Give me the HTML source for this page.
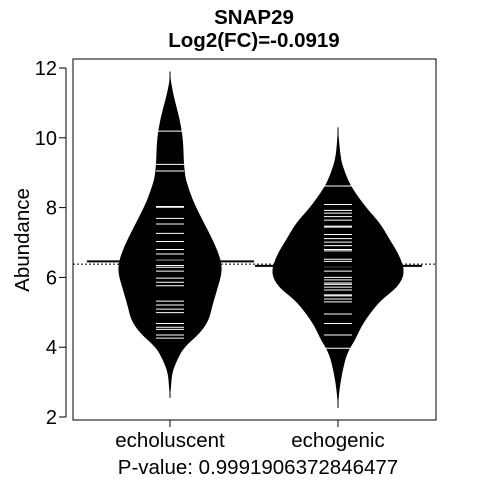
<!DOCTYPE html>
<html><head><meta charset="utf-8"><style>
body{margin:0;background:#fff}
svg{display:block;font-family:"Liberation Sans",Arial,sans-serif}
</style></head><body>
<svg id="c" width="480" height="480"></svg>
<script>
const categories=["echoluscent","echogenic"];
const yTicks=[2,4,6,8,10,12];
const overallMean=6.38;
const groupMeans=[6.46,6.33];
const densityLevels1=[11.9,11.46,10.2,9.0,8.5,8.0,7.07,6.5,6.13,5.64,5.15,4.78,4.4,4.0,3.63,3.26,2.86,2.55];
const densityWidths1=[0,1,13,14,19,26,43,51,52,47,42,39,30,14,7,2,1,0];
const densityLevels2=[10.3,9.45,9.0,8.6,8.0,7.56,7.07,6.6,6.13,5.73,5.35,4.97,4.58,4.2,3.83,3.26,2.69,2.26];
const densityWidths2=[0,2,7,13,28,42,52,62,67,60,43,32,23,17,9,4,1,0];
const obs1=[10.19,9.24,9.05,8.03,8.01,7.69,7.53,7.26,7.03,6.80,6.67,6.49,6.34,6.29,6.18,5.98,5.86,5.76,5.32,5.21,5.09,4.99,4.68,4.57,4.51,4.35,4.26];
const obs2=[8.62,8.09,7.92,7.84,7.74,7.64,7.47,7.44,7.23,7.11,7.01,6.91,6.80,6.76,6.52,6.46,6.34,6.31,6.18,6.00,5.93,5.84,5.80,5.72,5.64,5.50,5.47,5.38,5.30,4.95,4.68,4.35,3.97];

const NS="http://www.w3.org/2000/svg";
const svg=document.getElementById('c');
const L=73,R=436,T=59,B=420;
const y=v=>417-(v-2)*34.9;
const x=i=>[170,338][i];
function el(t,a,txt){const e=document.createElementNS(NS,t);for(const k in a)e.setAttribute(k,a[k]);if(txt!=null)e.textContent=txt;svg.appendChild(e);return e;}
function smooth(pts){
  let d='M'+pts[0][0]+','+pts[0][1];
  for(let k=1;k<pts.length-1;k++){
    const mx=(pts[k][0]+pts[k+1][0])/2,my=(pts[k][1]+pts[k+1][1])/2;
    d+=' Q'+pts[k][0]+','+pts[k][1]+' '+mx+','+my;
  }
  const l=pts[pts.length-1];d+=' L'+l[0]+','+l[1];return d;
}

e=el('rect',{x:L,y:T,width:R-L,height:B-T,fill:'none',stroke:'#000','stroke-width':1});


var e;

const dens=[[densityLevels1,densityWidths1],[densityLevels2,densityWidths2]];
const obs=[obs1,obs2];
dens.forEach((d,i)=>{
  const cx=x(i);
  const right=d[0].map((v,k)=>[cx+d[1][k],y(v)]);
  const left=d[0].map((v,k)=>[cx-d[1][k],y(v)]).reverse();
  const p=el('path',{d:smooth(right)+' '+smooth(left).replace('M','L')+' Z',fill:'#000'});
  
  
  el('line',{x1:cx,x2:cx,y1:y(d[0][0]),y2:y(d[0][d[0].length-1]),stroke:'#000','stroke-width':1});
  obs[i].forEach(v=>{
    const l=el('line',{x1:cx-14,x2:cx+14,y1:y(v),y2:y(v),stroke:'#fff','stroke-width':1});
    
    
  });
  const m=el('line',{x1:cx-83,x2:cx+84,y1:y(groupMeans[i]),y2:y(groupMeans[i]),stroke:'#000','stroke-width':2});
  
  
});
e=el('line',{x1:L,x2:R,y1:y(overallMean),y2:y(overallMean),stroke:'#000','stroke-width':1,'stroke-dasharray':'2,2'});



el('line',{x1:66,x2:66,y1:y(12),y2:y(2),stroke:'#000'});
yTicks.forEach(t=>{
  el('line',{x1:59,x2:66,y1:y(t),y2:y(t),stroke:'#000'});
  const tx=el('text',{x:57,y:y(t)+7,'text-anchor':'end','font-size':20},t);
  
  
});
categories.forEach((c,i)=>{
  el('line',{x1:x(i),x2:x(i),y1:B,y2:B+7,stroke:'#000'});
  const tx=el('text',{x:x(i),y:447,'text-anchor':'middle','font-size':20.5},c);
  
  
});
e=el('text',{x:258,y:474,'text-anchor':'middle','font-size':20.5},'P-value: 0.9991906372846477');


e=el('text',{x:29,y:240,'text-anchor':'middle','font-size':20.5,transform:'rotate(-90 29 240)'},'Abundance');


e=el('text',{x:254,y:24,'text-anchor':'middle','font-size':20.5,'font-weight':'bold'},'SNAP29');


e=el('text',{x:254,y:47,'text-anchor':'middle','font-size':20.5,'font-weight':'bold'},'Log2(FC)=-0.0919');


</script>
</body></html>
